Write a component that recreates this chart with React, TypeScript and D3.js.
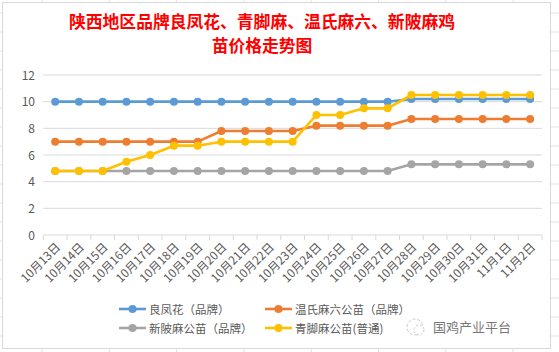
import React, { useEffect, useRef } from 'react';
import * as d3 from 'd3';

const dates = [
  '10月13日', '10月14日', '10月15日', '10月16日', '10月17日', '10月18日', '10月19日',
  '10月20日', '10月21日', '10月22日', '10月23日', '10月24日', '10月25日', '10月26日',
  '10月27日', '10月28日', '10月29日', '10月30日', '10月31日', '11月1日', '11月2日',
];

const liangFengHua = [10, 10, 10, 10, 10, 10, 10, 10, 10, 10, 10, 10, 10, 10, 10, 10.2, 10.2, 10.2, 10.2, 10.2, 10.2];
const wenShi = [7, 7, 7, 7, 7, 7, 7, 7.8, 7.8, 7.8, 7.8, 8.2, 8.2, 8.2, 8.2, 8.7, 8.7, 8.7, 8.7, 8.7, 8.7];
const xinPiMa = [4.8, 4.8, 4.8, 4.8, 4.8, 4.8, 4.8, 4.8, 4.8, 4.8, 4.8, 4.8, 4.8, 4.8, 4.8, 5.3, 5.3, 5.3, 5.3, 5.3, 5.3];
const qingJiaoMa = [4.8, 4.8, 4.8, 5.5, 6, 6.7, 6.7, 7, 7, 7, 7, 9, 9, 9.5, 9.5, 10.5, 10.5, 10.5, 10.5, 10.5, 10.5];

const seriesNames = ['良凤花（品牌）', '温氏麻六公苗（品牌）', '新陂麻公苗（品牌）', '青脚麻公苗(普通)'];
const yTicks = [0, 2, 4, 6, 8, 10, 12];

const titleLines = ['陕西地区品牌良凤花、青脚麻、温氏麻六、新陂麻鸡', '苗价格走势图'];

export default function App() {
  const ref = useRef<SVGSVGElement>(null);

  useEffect(() => {
    if (!ref.current) return;
    const svg = d3.select(ref.current);
    svg.selectAll('*').remove();

    const width = 559;
    const height = 352;
    const font = '"Noto Sans CJK SC", "Noto Sans", sans-serif';
    const colors = ['#5B9BD5', '#ED7D31', '#A5A5A5', '#FFC000'];
    const values = [liangFengHua, wenShi, xinPiMa, qingJiaoMa];

    svg.attr('width', width).attr('height', height);

    // spreadsheet cells behind the chart
    const bg = svg.append('g');
    bg.append('rect').attr('width', width).attr('height', height).attr('fill', '#fff');
    d3.range(0, 9).forEach(i => {
      const xx = 42 + i * 67.3;
      bg.append('line').attr('x1', xx).attr('x2', xx).attr('y1', 0).attr('y2', height)
        .attr('stroke', '#e3e3e3');
    });
    d3.range(0, 19).forEach(i => {
      const yy = 13 + i * 19;
      bg.append('line').attr('x1', 0).attr('x2', width).attr('y1', yy).attr('y2', yy)
        .attr('stroke', '#e3e3e3');
    });

    svg.append('rect')
      .attr('x', 2.5).attr('y', 2.5).attr('width', 548).attr('height', 346)
      .attr('fill', '#fff').attr('stroke', '#d9d9d9');

    // title
    svg.selectAll('text.title')
      .data(titleLines)
      .enter()
      .append('text')
      .attr('class', 'title')
      .attr('x', 262)
      .attr('y', (d, i) => 28 + i * 24)
      .attr('text-anchor', 'middle')
      .attr('font-family', font)
      .attr('font-weight', 'bold')
      .attr('font-size', 16.8)
      .attr('fill', '#ff0000')
      .text(d => d);

    const x = d3.scaleBand()
      .domain(dates)
      .range([43.3, 542])
      .padding(0);

    const y = d3.scaleLinear()
      .domain([0, 12])
      .range([235, 75]);

    const cx = (d: string) => (x(d) || 0) + x.bandwidth() / 2;

    // gridlines
    svg.append('g')
      .selectAll('line')
      .data(yTicks.filter(t => t > 0))
      .enter()
      .append('line')
      .attr('x1', 43.3).attr('x2', 542)
      .attr('y1', d => y(d)).attr('y2', d => y(d))
      .attr('stroke', '#d9d9d9');

    // y labels
    svg.append('g')
      .selectAll('text')
      .data(yTicks)
      .enter()
      .append('text')
      .attr('x', 35)
      .attr('y', d => y(d) + 4.5)
      .attr('text-anchor', 'end')
      .attr('font-family', font)
      .attr('font-size', 12)
      .attr('fill', '#595959')
      .text(d => d);

    // x axis
    svg.append('line')
      .attr('x1', 43.3).attr('x2', 542).attr('y1', y(0)).attr('y2', y(0))
      .attr('stroke', '#d9d9d9');
    const bounds = dates.map(d => x(d) || 0).concat([542]);
    svg.append('g')
      .selectAll('line')
      .data(bounds)
      .enter()
      .append('line')
      .attr('x1', d => d).attr('x2', d => d)
      .attr('y1', y(0)).attr('y2', y(0) + 5)
      .attr('stroke', '#d9d9d9');

    svg.append('g')
      .selectAll('text')
      .data(dates)
      .enter()
      .append('text')
      .attr('transform', d => `translate(${cx(d) + 6},${y(0) + 13}) rotate(-45)`)
      .attr('text-anchor', 'end')
      .attr('font-family', font)
      .attr('font-size', 11.8)
      .attr('fill', '#595959')
      .text(d => d);

    // series
    const line = d3.line<number>()
      .x((d, i) => cx(dates[i]))
      .y(d => y(d));

    values.forEach((vals, si) => {
      const g = svg.append('g');
      g.append('path')
        .attr('d', line(vals))
        .attr('fill', 'none')
        .attr('stroke', colors[si])
        .attr('stroke-width', 2.6)
        .attr('stroke-linejoin', 'round');
      g.selectAll('circle')
        .data(vals)
        .enter()
        .append('circle')
        .attr('cx', (d, i) => cx(dates[i]))
        .attr('cy', d => y(d))
        .attr('r', 4)
        .attr('fill', colors[si]);
    });

    // legend
    const legendPos = [[119, 309], [265, 309], [119, 328], [265, 328]];
    seriesNames.forEach((name, i) => {
      const [lx, ly] = legendPos[i];
      const g = svg.append('g').attr('transform', `translate(${lx},${ly})`);
      g.append('line').attr('x1', 0).attr('x2', 27).attr('y1', 0).attr('y2', 0)
        .attr('stroke', colors[i]).attr('stroke-width', 2.6);
      g.append('circle').attr('cx', 13.5).attr('cy', 0).attr('r', 4).attr('fill', colors[i]);
      g.append('text')
        .attr('x', 30).attr('y', 4.5)
        .attr('font-family', font)
        .attr('font-size', 11.5)
        .attr('fill', '#595959')
        .text(name);
    });

    // watermark
    const wm = svg.append('g').attr('transform', 'translate(415,327)');
    wm.append('circle').attr('cx', 0).attr('cy', 0).attr('r', 8)
      .attr('fill', 'none').attr('stroke', '#c8c8c8').attr('stroke-dasharray', '3,2');
    wm.append('circle').attr('cx', 4).attr('cy', 3).attr('r', 5)
      .attr('fill', '#fff').attr('stroke', '#c8c8c8').attr('stroke-dasharray', '2,2');
    svg.append('text')
      .attr('x', 433).attr('y', 332)
      .attr('font-family', font)
      .attr('font-size', 13)
      .attr('fill', '#777')
      .text('国鸡产业平台');
  }, []);

  return (
    <svg ref={ref} style={{ position: 'absolute', left: 0, top: 0, display: 'block' }} />
  );
}
